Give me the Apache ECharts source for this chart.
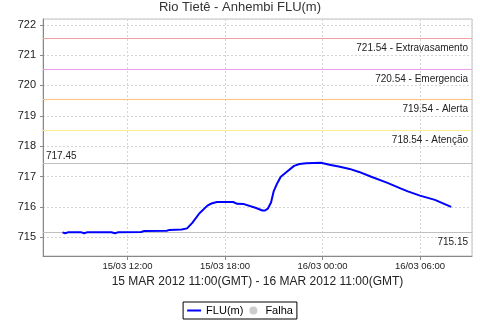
<!DOCTYPE html>
<html>
<head>
<meta charset="utf-8">
<script src="https://cdn.jsdelivr.net/npm/echarts@6/dist/echarts.min.js"></script>
<style>html,body{margin:0;padding:0;background:#fff;}#c{width:480px;height:320px;}</style>
</head>
<body>
<div id="c"></div>
<script>
var times = ["15/03 08:00","15/03 08:10","15/03 08:20","15/03 09:10","15/03 09:20","15/03 09:30","15/03 11:00","15/03 11:06","15/03 11:14","15/03 11:24","15/03 12:50","15/03 13:00","15/03 14:25","15/03 14:35","15/03 15:20","15/03 15:40","15/03 16:00","15/03 16:25","15/03 16:55","15/03 17:10","15/03 17:30","15/03 18:30","15/03 18:45","15/03 19:10","15/03 19:55","15/03 20:18","15/03 20:28","15/03 20:38","15/03 20:50","15/03 21:00","15/03 21:13","15/03 21:26","15/03 21:45","15/03 22:15","15/03 22:35","15/03 23:00","15/03 23:55","16/03 00:25","16/03 01:00","16/03 01:40","16/03 02:15","16/03 03:00","16/03 04:00","16/03 04:50","16/03 05:15","16/03 06:00","16/03 06:55","16/03 07:55"];
var levels = [715.16,715.13,715.16,715.16,715.13,715.16,715.16,715.19,715.13,715.16,715.17,715.20,715.21,715.24,715.25,715.29,715.48,715.78,716.04,716.11,716.16,716.16,716.10,716.09,715.96,715.88,715.88,715.94,716.14,716.52,716.78,716.99,717.13,717.35,717.41,717.44,717.45,717.39,717.33,717.25,717.15,716.99,716.79,716.60,716.51,716.37,716.23,716.00];
var thresholdValues = [721.54, 720.54, 719.54, 718.54];
var thresholdNames = ["Extravasamento", "Emergencia", "Alerta", "Atenção"];
var thresholdColors = ["#f2a0a0", "#eea0ee", "#ffc080", "#ffee90"];
var maxLevel = 717.45;
var minLevel = 715.15;
var xTickLabels = ["15/03 12:00","15/03 18:00","16/03 00:00","16/03 06:00"];
var yTicks = [715,716,717,718,719,720,721,722];
var title = "Rio Tietê - Anhembi FLU(m)";
var xName = "15 MAR 2012 11:00(GMT) - 16 MAR 2012 11:00(GMT)";

function toHours(s){
  var d = parseInt(s.substr(0,2),10), hh = parseInt(s.substr(6,2),10), mm = parseInt(s.substr(9,2),10);
  return (d-15)*24 + hh + mm/60;
}
function pad(n){return (n<10?'0':'')+n;}
function fmtHours(h){
  var d = 15 + Math.floor(h/24); var hh = Math.round(h - Math.floor(h/24)*24);
  return pad(d)+'/03 '+pad(hh)+':00';
}
var data = times.map(function(t,i){return [toHours(t), levels[i]];});

var font = 'Liberation Sans';
var markData = thresholdValues.map(function(v,i){
  return {yAxis:v, lineStyle:{color:thresholdColors[i], type:'solid', width:1},
    label:{show:true, position:'insideEndBottom', distance:[4,5], formatter: v.toFixed(2)+' - '+thresholdNames[i]}};
});
markData.push({yAxis:maxLevel, lineStyle:{color:'#c0c0c0', type:'solid', width:1},
  label:{show:true, position:'insideStartTop', distance:[3,2], formatter: maxLevel.toFixed(2)}});
markData.push({yAxis:minLevel, lineStyle:{color:'#c0c0c0', type:'solid', width:1},
  label:{show:true, position:'insideEndBottom', distance:[4,5], formatter: minLevel.toFixed(2)}});

var chart = echarts.init(document.getElementById('c'), null, {renderer:'canvas'});
chart.setOption({
  animation:false,
  backgroundColor:'#ffffff',
  title:{text:title, left:'center', top:1, padding:0, textStyle:{fontFamily:font, fontSize:13, fontWeight:'normal', color:'#333'}},
  grid:{left:43, top:19, right:8, bottom:64, show:true, borderColor:'#c0c0c0', borderWidth:1},
  legend:{bottom:1, left:'center', borderColor:'#000', borderWidth:1, padding:[3,4,3,4], itemGap:6, itemWidth:14, itemHeight:8,
    textStyle:{fontFamily:font, fontSize:11, color:'#000'},
    data:[{name:'FLU(m)', icon:'path://M0,0 L14,0 L14,2 L0,2 Z'},{name:'Falha', icon:'circle'}]},
  xAxis:{type:'value', min:6.8, max:33.2, minInterval:6, maxInterval:6,
    name:xName, nameLocation:'middle', nameGap:13, nameTextStyle:{fontFamily:font, fontSize:12, color:'#222'},
    axisLine:{lineStyle:{color:'#888'}},
    axisTick:{show:true, length:4, lineStyle:{color:'#888'}},
    axisLabel:{fontFamily:font, fontSize:9.5, color:'#222', margin:5, showMinLabel:false, showMaxLabel:false,
      formatter:function(v){ var s=fmtHours(v); return xTickLabels.indexOf(s)>=0?s:''; }},
    splitLine:{show:true, lineStyle:{color:'#d4d4d4', type:[2,2]}}},
  yAxis:{type:'value', min:714.38, max:722.19, minInterval:1, maxInterval:1,
    axisLine:{show:true, lineStyle:{color:'#888'}},
    axisTick:{show:true, length:3, lineStyle:{color:'#888'}},
    axisLabel:{fontFamily:font, fontSize:11, color:'#222', margin:7, showMinLabel:false, showMaxLabel:false,
      formatter:function(v){ return yTicks.indexOf(v)>=0 ? String(v) : ''; }},
    splitLine:{show:true, lineStyle:{color:'#d4d4d4', type:[2,2]}}},
  series:[
    {name:'FLU(m)', type:'line', z:3, data:data, symbol:'none', color:'#0000ff', lineStyle:{color:'#0000ff', width:2}},
    {name:'Falha', type:'scatter', data:[], color:'#c0c0c0'},
    {name:'limites', type:'line', z:1, data:[], silent:true,
      markLine:{silent:true, symbol:'none', animation:false, z:1,
        label:{fontFamily:font, fontSize:10, color:'#222'},
        data:markData}}
  ]
});
</script>
</body>
</html>
